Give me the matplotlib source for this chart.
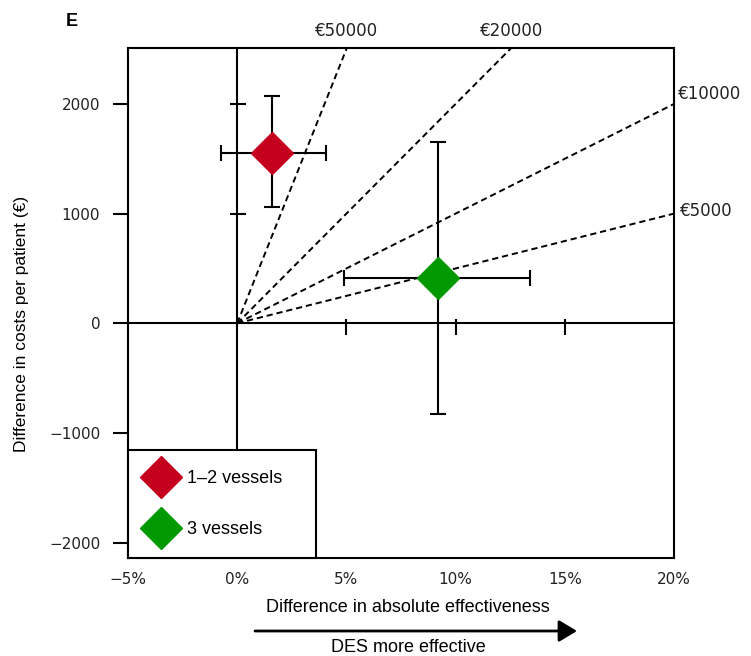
import matplotlib
matplotlib.use('Agg')
import matplotlib.pyplot as plt

# ---- data ----
groups = ['1–2 vessels', '3 vessels']
eff = [1.6, 9.2]
eff_lo = [-0.75, 4.9]
eff_hi = [4.05, 13.4]
cost = [1550, 410]
cost_lo = [1060, -830]
cost_hi = [2070, 1650]
colors = ['#C4001E', '#009A00']
wtp = [50000, 20000, 10000, 5000]
wtp_labels = ['€50000', '€20000', '€10000', '€5000']
xticks = [-5, 0, 5, 10, 15, 20]
xticklabels = ['−5%', '0%', '5%', '10%', '15%', '20%']
yticks = [-2000, -1000, 0, 1000, 2000]
yticklabels = ['−2000', '−1000', '0', '1000', '2000']
inner_xticks = [5, 10, 15]
inner_yticks = [1000, 2000]

W, H = 751, 656
fig = plt.figure(figsize=(W / 100, H / 100), dpi=100)
ax = fig.add_axes([128 / W, 1 - 558 / H, 546 / W, 510 / H])
xmin, xmax = -5, 20
ymin, ymax = -2140, 2510
ax.set_xlim(xmin, xmax)
ax.set_ylim(ymin, ymax)

LAB = 'Liberation Sans'
TICK = 'DejaVu Sans'

# spines / ticks
for s in ax.spines.values():
    s.set_linewidth(1.5)
ax.set_xticks(xticks)
ax.set_xticklabels(xticklabels, family=TICK, fontsize=11, color='#222222')
ax.set_yticks(yticks)
ax.set_yticklabels(yticklabels, family=TICK, fontsize=11, color='#222222')
ax.tick_params(axis='y', direction='out', length=11, width=1.5, pad=9)
ax.tick_params(axis='x', length=0, pad=10)

# central axes lines
ax.axhline(0, color='black', lw=1.5, zorder=2)
ax.axvline(0, color='black', lw=1.5, zorder=2)
ax.vlines(inner_xticks, -110, 40, color='black', lw=1.5, zorder=2)
ax.hlines(inner_yticks, -0.35, 0.4, color='black', lw=1.5, zorder=2)

# willingness-to-pay lines
for w, lab in zip(wtp, wtp_labels):
    xs = [0, xmax]
    ys = [0, w * xmax / 100]
    ax.plot(xs, ys, color='black', lw=1.4, dashes=(3.2, 2), zorder=2)
    xt = ymax / w * 100
    if xt <= xmax:
        ax.annotate(lab, (xt, ymax), xytext=(0, 6), textcoords='offset points',
                    ha='center', va='bottom', family=TICK, fontsize=12,
                    color='#222222', annotation_clip=False)
    else:
        yt = w * xmax / 100
        off = (3, 7) if w == 10000 else (4, 2)
        ax.annotate(lab, (xmax, yt), xytext=off, textcoords='offset points',
                    ha='left', va='center', family=TICK, fontsize=12,
                    color='#222222', annotation_clip=False)

# points with error bars
for i in range(len(groups)):
    ax.errorbar(eff[i], cost[i],
                xerr=[[eff[i] - eff_lo[i]], [eff_hi[i] - eff[i]]],
                yerr=[[cost[i] - cost_lo[i]], [cost_hi[i] - cost[i]]],
                fmt='none', ecolor='black', elinewidth=1.5, capsize=6,
                capthick=1.5, zorder=3)
    ax.plot(eff[i], cost[i], 'D', ms=21, color=colors[i], mec=colors[i],
            ls='none', zorder=4, label=groups[i])

leg = ax.legend(loc='lower left', bbox_to_anchor=(0, 0, 188 / 546, 0.2),
                mode='expand', borderaxespad=0, frameon=True, fancybox=False,
                edgecolor='black', framealpha=1, borderpad=1.1,
                labelspacing=1.9, handlelength=1.44, handletextpad=0.72,
                prop={'family': LAB, 'size': 13})
leg.get_frame().set_linewidth(1.5)
leg.set_zorder(6)

# labels
fig.text(407.5 / W, 1 - 607 / H, 'Difference in absolute effectiveness',
         ha='center', va='center', family=LAB, fontsize=13)
fig.text(408.5 / W, 1 - 647 / H, 'DES more effective',
         ha='center', va='center', family=LAB, fontsize=13)
fig.text(22 / W, 1 - 324 / H, 'Difference in costs per patient (€)',
         ha='center', va='center', rotation=90, family=LAB, fontsize=12.5)
fig.text(72 / W, 1 - 22 / H, 'E', ha='center', va='center', family=LAB,
         fontsize=13, fontweight='bold')
ax.annotate('', xy=(577 / W, 1 - 631 / H), xytext=(255 / W, 1 - 631 / H),
            xycoords='figure fraction', textcoords='figure fraction',
            arrowprops=dict(arrowstyle='-|>,head_length=0.55,head_width=0.33',
                            lw=2, color='black', mutation_scale=20,
                            shrinkA=0, shrinkB=0))

fig.savefig('out.png', dpi=100)
